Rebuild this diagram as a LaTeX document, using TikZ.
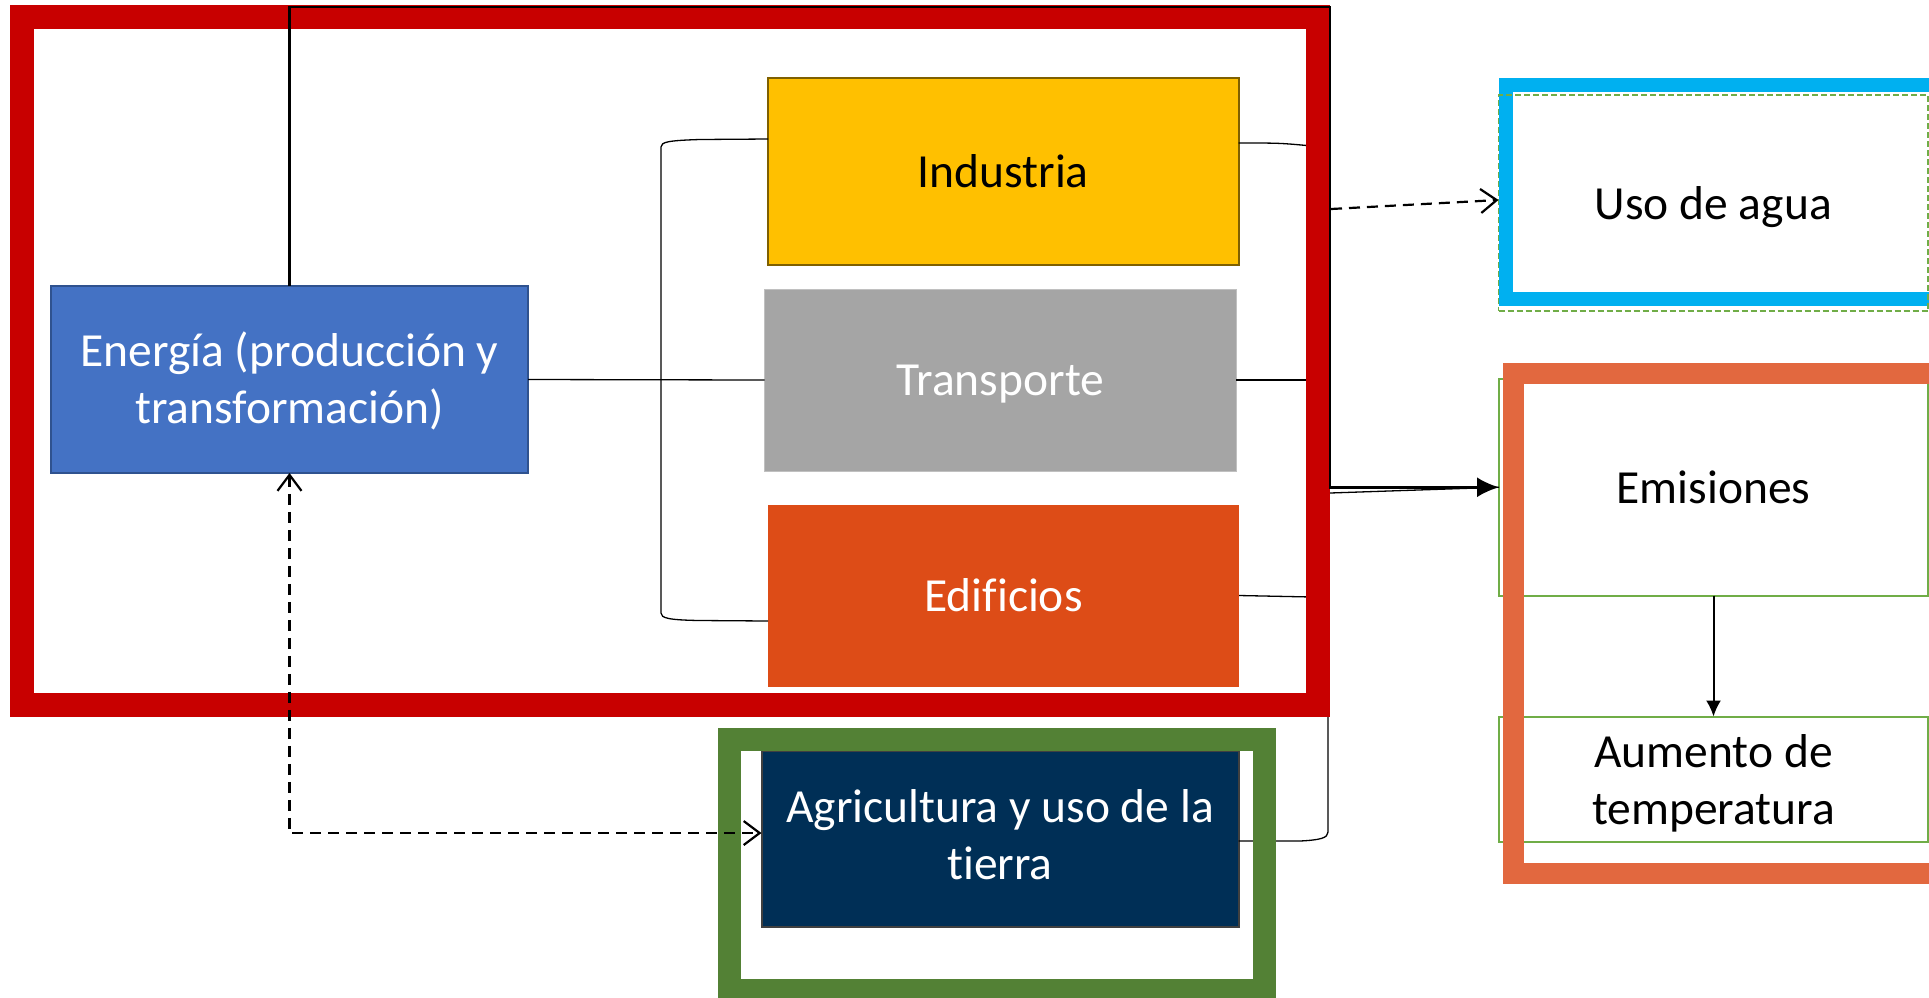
\documentclass[tikz,border=0pt]{standalone}
\usepackage{fontspec}
\setmainfont[Ligatures=NoCommon]{Carlito}
\usetikzlibrary{arrows.meta}
\definecolor{framered}{HTML}{C80000}
\definecolor{framegreen}{HTML}{538135}
\definecolor{frameblue}{HTML}{00B0F0}
\definecolor{frameorange}{HTML}{E2683F}
\definecolor{energyblue}{HTML}{4472C4}
\definecolor{energyedge}{HTML}{2F528F}
\definecolor{indyellow}{HTML}{FFC000}
\definecolor{indedge}{HTML}{7F6000}
\definecolor{transgrey}{HTML}{A5A5A5}
\definecolor{buildorange}{HTML}{DD4C17}
\definecolor{agrinavy}{HTML}{002F56}
\definecolor{agriedge}{HTML}{404040}
\definecolor{lightgreen}{HTML}{70AD47}
\begin{document}
\begin{tikzpicture}[x=1pt,y=-1pt,
  txt/.style={font=\fontsize{47.5}{57}\selectfont, align=center, inner sep=0pt, outer sep=0pt},
  sector/.style={txt, rectangle, line width=2pt},
  conn/.style={line width=1.3pt, black},
  dasharrow/.style={line width=2.2pt, dash pattern=on 11pt off 7pt},
  openbarb/.tip={Straight Barb[length=16pt,width=24pt]}
]
\useasboundingbox (0,0) rectangle (1929,997);
\fill[white] (0,0) rectangle (1929,997);

% sector boxes
\node[sector, fill=energyblue, draw=energyedge, text=white, text depth=4pt, minimum width=477pt, minimum height=187pt] (energia) at (289.5,379.5) {Energía (producción y\\transformación)};
\node[sector, fill=indyellow, draw=indedge, text=black, minimum width=470.5pt, minimum height=187pt] (industria) at (1003.25,171.5) {Industria};
\node[sector, fill=transgrey, draw=transgrey!70!white, line width=1pt, text=white, text depth=0pt, minimum width=471.5pt, minimum height=182pt] (transporte) at (1000.25,380) {Transporte};
\node[sector, fill=buildorange, text=white, minimum width=471pt, minimum height=182pt] (edificios) at (1003.5,595.5) {Edificios};
\node[sector, fill=agrinavy, draw=agriedge, text=white, text depth=10pt, minimum width=477pt, minimum height=176pt] (agricultura) at (1000,839) {Agricultura y uso de la\\tierra};

% water
\draw[frameblue, line width=14pt] (1506,85) rectangle (1945,299);
\node[txt, draw=lightgreen, line width=1.5pt, dash pattern=on 6pt off 3pt, text depth=0pt, minimum width=429.5pt, minimum height=216pt] (agua) at (1713.25,203) {Uso de agua};

% emissions
\node[txt, draw=lightgreen, line width=2pt, minimum width=429pt, minimum height=216.5pt] (emis) at (1713.5,487.25) {Emisiones};
\node[txt, draw=lightgreen, line width=2pt, text depth=0pt, minimum width=429pt, minimum height=125.5pt] (aumento) at (1713.5,779.25) {Aumento de\\temperatura};
\draw[frameorange, line width=21pt] (1513.5,373) rectangle (1945,873.5);

% thin connectors
\draw[conn] ([yshift=32.5pt]industria.west) -- (700,139.5) .. controls (668,140.5) and (661,142) .. (661,147) -- (661,613) .. controls (661,618) and (668,620) .. (700,620.5) -- ([yshift=-25.5pt]edificios.west);
\draw[conn] (energia.east) -- (transporte.west);
\draw[conn] ([yshift=28.5pt]industria.east) .. controls (1280,143) .. (1312,146);
\draw[conn] (transporte.east) -- (1312,380);
\draw[conn] (edificios.east) -- (1312,597);
\draw[conn] ([yshift=-2pt]agricultura.east) -- (1300,841) .. controls (1320,840) and (1328,838) .. (1328,832) -- (1328,700);

% frames
\draw[framered, line width=24pt] (21.5,17) rectangle (1318,704.5);
\draw[framegreen, line width=23pt] (729.5,739) rectangle (1264.5,990);

% main connectors
\draw[line width=2.5pt, -{Latex[length=22pt,width=20pt]}] (energia.north) -- (289.5,7) -- (1330,7) |- (emis.west);
\draw[conn] (1330,493) -- (emis.west);
\coordinate (wstart) at (1331,209);
\draw[dasharrow, -openbarb] (wstart) -- ([yshift=3pt]agua.west);
\draw[dasharrow, openbarb-openbarb] (energia.south) |- ([yshift=6pt]agricultura.west);
\draw[line width=2pt, -{Latex[length=16pt,width=15pt]}] (emis.south) -- (aumento.north);
\end{tikzpicture}
\end{document}
